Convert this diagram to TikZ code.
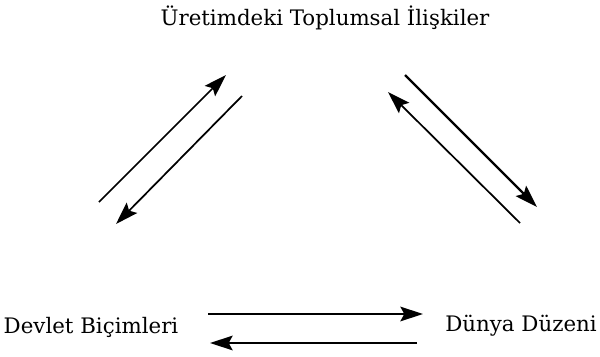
\documentclass[tikz,border=0pt]{standalone}
\usepackage{fontspec}
\setmainfont{DejaVu Serif}
\usepackage{tikz}
\usetikzlibrary{positioning, calc, arrows.meta}

\tikzset{
	label/.style={inner sep=0pt, font=\fontsize{16}{19}\selectfont},
	flow/.style={line width=1.3pt, -{Stealth[length=17pt, width=11pt, inset=3pt]}}
}

\begin{document}
\begin{tikzpicture}[x=0.75pt, y=-0.75pt]
	\useasboundingbox (0,0) rectangle (600,357);
	
	\node [label] (ure) at (325,18) {Üretimdeki Toplumsal İlişkiler};
	\node [label] (dev) at (91,327) {Devlet Biçimleri};
	\node [label] (dun) at (521,326) {Dünya Düzeni};
	
	% left pair
	\coordinate (l1a) at (99,202);
	\coordinate (l1b) at (226,75);
	\coordinate (l2a) at (242,96);
	\coordinate (l2b) at (116,224);
	\draw [flow] (l1a) -- (l1b);
	\draw [flow] (l2a) -- (l2b);
	
	% right pair
	\coordinate (r1a) at (405,75);
	\coordinate (r1b) at (537,207);
	\coordinate (r2a) at (520,223);
	\coordinate (r2b) at (388,92);
	\draw [flow, line width=1.6pt] (r1a) -- (r1b);
	\draw [flow] (r2a) -- (r2b);
	
	% bottom pair
	\coordinate (b1a) at (208,314);
	\coordinate (b1b) at (423,314);
	\coordinate (b2a) at (417,343);
	\coordinate (b2b) at (210,343);
	\draw [flow] (b1a) -- (b1b);
	\draw [flow] (b2a) -- (b2b);
\end{tikzpicture}
\end{document}
